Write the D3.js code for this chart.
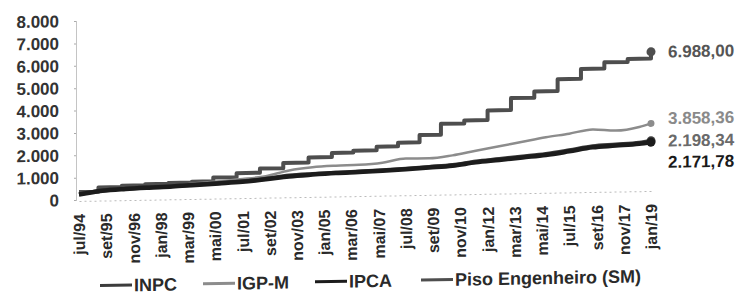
<!DOCTYPE html>
<html>
<head>
<meta charset="utf-8">
<script src="https://d3js.org/d3.v7.min.js"></script>
<style>
  body { margin: 0; background: #fff; }
  text { font-family: "Liberation Sans", Arial, sans-serif; }
</style>
</head>
<body>
<div class="canvas"></div>
<script>
// data (values in axis units)
const seriesNames = ["INPC", "IGP-M", "IPCA", "Piso Engenheiro (SM)"]
const indexDates = ["1994-07","1995-07","1996-07","1997-07","1998-07","1999-07","2000-07","2001-07",
  "2002-07","2003-07","2004-07","2005-07","2006-07","2007-07","2008-07","2009-07","2010-07","2011-07",
  "2012-07","2013-07","2014-07","2015-07","2016-07","2017-07","2018-07","2019-01"]
const inpcValues = [250, 410, 475, 515, 545, 600, 650, 705, 805, 925, 980, 1020, 1050, 1095, 1145,
  1205, 1270, 1410, 1500, 1595, 1695, 1840, 2000, 2060, 2125, 2195]
const igpmValues = [260, 400, 465, 505, 545, 650, 730, 805, 915, 1155, 1280, 1330, 1350, 1425, 1595,
  1585, 1700, 1890, 2070, 2255, 2435, 2580, 2750, 2680, 2825, 2975]
const ipcaValues = [240, 390, 455, 495, 525, 580, 630, 685, 775, 885, 950, 1000, 1030, 1065, 1115,
  1175, 1240, 1370, 1460, 1555, 1645, 1790, 1950, 2010, 2075, 2135]
const pisoDates = ["1994-07","1995-05","1996-05","1997-05","1998-05","1999-05","2000-04","2001-04",
  "2002-04","2003-04","2004-05","2005-05","2006-04","2007-04","2008-03","2009-02","2010-01","2011-01",
  "2012-01","2013-01","2014-01","2015-01","2016-01","2017-01","2018-01","2019-01"]
const pisoValues = [350, 545, 605, 650, 690, 730, 895, 1075, 1260, 1490, 1720, 1905, 1985, 2150, 2310,
  2635, 3120, 3250, 3680, 4215, 4495, 5025, 5460, 5740, 5870, 6175]
const endLabels = ["2.198,34", "3.858,36", "2.171,78", "6.988,00"]
const xTickDates = ["1994-07","1995-09","1996-11","1998-01","1999-03","2000-05","2001-07","2002-09",
  "2003-11","2005-01","2006-03","2007-05","2008-07","2009-09","2010-11","2012-01","2013-03","2014-05",
  "2015-07","2016-09","2017-11","2019-01"]
const xTickLabels = ["jul/94","set/95","nov/96","jan/98","mar/99","mai/00","jul/01","set/02","nov/03",
  "jan/05","mar/06","mai/07","jul/08","set/09","nov/10","jan/12","mar/13","mai/14","jul/15","set/16",
  "nov/17","jan/19"]
const yTicks = [0, 1000, 2000, 3000, 4000, 5000, 6000, 7000, 8000]

// settings
const svgWidth = 747
const svgHeight = 296
const parse = d3.timeParse("%Y-%m")
const colors = {"INPC": "#3c3c3c", "IGP-M": "#8c8c8c", "IPCA": "#1c1c1c", "Piso Engenheiro (SM)": "#4e4e4e"}
const widths = {"INPC": 4, "IGP-M": 2.5, "IPCA": 4.5, "Piso Engenheiro (SM)": 4}
const labelColors = {"INPC": "#6a6a6a", "IGP-M": "#8a8a8a", "IPCA": "#1a1a1a", "Piso Engenheiro (SM)": "#555"}
const labelOffsets = {"INPC": 0, "IGP-M": -5, "IPCA": 20, "Piso Engenheiro (SM)": 0}

const svg = d3.select(".canvas")
  .append("svg")
  .attr("width", svgWidth)
  .attr("height", svgHeight)

// the scanned original is slightly skewed (right side higher)
const chart = svg.append("g")
  .attr("transform", "translate(76,201) skewY(-1) translate(-76,-201)")

const x = d3.scaleTime()
  .domain([parse("1994-07"), parse("2019-01")])
  .range([79, 651])

const y = d3.scaleLinear()
  .domain([0, 8000])
  .range([200, 21])

const series = [
  {name: "INPC", points: indexDates.map((d, i) => ({date: parse(d), value: inpcValues[i]})), curve: d3.curveMonotoneX},
  {name: "IGP-M", points: indexDates.map((d, i) => ({date: parse(d), value: igpmValues[i]})), curve: d3.curveMonotoneX},
  {name: "IPCA", points: indexDates.map((d, i) => ({date: parse(d), value: ipcaValues[i]})), curve: d3.curveMonotoneX},
  {name: "Piso Engenheiro (SM)", points: pisoDates.map((d, i) => ({date: parse(d), value: pisoValues[i]})), curve: d3.curveStepAfter}
]
series.forEach((s, i) => s.label = endLabels[i])

// y axis
const yAxis = chart.append("g")
  .attr("transform", "translate(76,0)")
  .call(d3.axisLeft(y).tickValues(yTicks).tickSize(2).tickPadding(15)
    .tickFormat(d => d === 0 ? "0" : d3.format(",")(d).replace(",", ".")))
yAxis.select(".domain").attr("stroke", "#c4c4c4")
yAxis.selectAll(".tick line").attr("stroke", "#aaa")
yAxis.selectAll("text")
  .attr("font-size", 17)
  .attr("font-weight", "bold")
  .attr("fill", "#333")

// x axis
const xAxis = chart.append("g")
  .attr("transform", "translate(0,201)")
  .call(d3.axisBottom(x).tickValues(xTickDates.map(parse)).tickSize(0)
    .tickFormat((d, i) => xTickLabels[i]))
xAxis.select(".domain").attr("stroke", "#bbb").attr("stroke-dasharray", "2,3")
xAxis.selectAll("text")
  .attr("transform", "rotate(-90)")
  .attr("text-anchor", "end")
  .attr("x", -13)
  .attr("y", 0)
  .attr("dy", "0.35em")
  .attr("font-size", 16)
  .attr("font-weight", "bold")
  .attr("fill", "#2a2a2a")

// lines
const drawOrder = ["Piso Engenheiro (SM)", "IGP-M", "INPC", "IPCA"]
drawOrder.forEach(name => {
  const s = series.find(d => d.name === name)
  const line = d3.line().x(d => x(d.date)).y(d => y(d.value)).curve(s.curve)
  chart.append("path")
    .datum(s.points)
    .attr("d", line)
    .attr("fill", "none")
    .attr("stroke", colors[name])
    .attr("stroke-width", widths[name])
    .attr("stroke-linejoin", "round")
  const last = s.points[s.points.length - 1]
  chart.append("circle")
    .attr("cx", x(last.date))
    .attr("cy", y(last.value))
    .attr("r", name === "IGP-M" ? 3.5 : 4.5)
    .attr("fill", colors[name])
})

// end labels
series.forEach(s => {
  const last = s.points[s.points.length - 1]
  chart.append("text")
    .attr("x", x(last.date) + 17)
    .attr("y", y(last.value) + labelOffsets[s.name])
    .attr("dy", "0.35em")
    .attr("font-size", 17)
    .attr("font-weight", "bold")
    .attr("fill", labelColors[s.name])
    .text(s.label)
})

// legend
const legendX = [100, 203, 315, 421]
const legend = chart.append("g").attr("transform", "translate(0,286)")
seriesNames.forEach((name, i) => {
  legend.append("line")
    .attr("x1", legendX[i]).attr("x2", legendX[i] + 32)
    .attr("y1", 0).attr("y2", 0)
    .attr("stroke", colors[name])
    .attr("stroke-width", 3)
  legend.append("text")
    .attr("x", legendX[i] + 34)
    .attr("y", 0)
    .attr("dy", "0.35em")
    .attr("font-size", 18)
    .attr("font-weight", "bold")
    .attr("fill", "#2a2a2a")
    .text(name)
})
</script>
</body>
</html>
